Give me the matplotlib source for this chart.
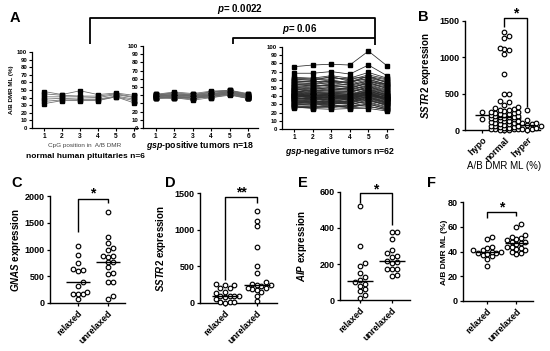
import numpy as np
import matplotlib
matplotlib.use('Agg')
import matplotlib.pyplot as plt
from matplotlib.lines import Line2D

plt.rcParams['font.family'] = ['Liberation Sans', 'DejaVu Sans']
plt.rcParams['font.weight'] = 'bold'
plt.rcParams['mathtext.fontset'] = 'custom'
plt.rcParams['mathtext.it'] = 'Liberation Sans:italic:bold'
plt.rcParams['mathtext.rm'] = 'Liberation Sans:bold'
plt.rcParams['mathtext.bf'] = 'Liberation Sans:bold'

# ---------------- data ----------------
cpg_pos = [1, 2, 3, 4, 5, 6]

a_normal = [
    [48, 44, 49, 44, 46, 43],
    [45, 43, 42, 42, 45, 41],
    [41, 41, 41, 40, 44, 40],
    [38, 39, 38, 38, 42, 38],
    [35, 37, 37, 37, 41, 36],
    [32, 36, 36, 36, 41, 33],
]

a_gsp_pos = [
    [41, 44, 42, 45, 46, 42], [40, 43, 41, 44, 45, 41], [40, 42, 40, 43, 46, 40],
    [39, 41, 39, 42, 44, 40], [41, 40, 38, 41, 45, 39], [39, 39, 40, 40, 43, 39],
    [38, 40, 37, 41, 44, 38], [40, 38, 41, 39, 42, 37], [37, 39, 36, 40, 43, 38],
    [38, 37, 38, 38, 42, 37], [36, 38, 35, 39, 41, 36], [39, 36, 37, 38, 44, 37],
    [37, 37, 34, 37, 40, 36], [38, 41, 39, 42, 45, 39], [40, 39, 36, 41, 43, 38],
    [36, 36, 38, 37, 41, 36], [41, 42, 40, 44, 46, 41], [37, 38, 37, 39, 42, 37],
]

a_gsp_neg = [
    [76, 78, 79, 78, 95, 77], [68, 68, 70, 67, 78, 65], [63, 62, 65, 62, 69, 62],
    [62, 61, 63, 60, 66, 61], [61, 59, 64, 58, 64, 60], [60, 60, 61, 62, 63, 58],
    [59, 57, 60, 56, 65, 56], [58, 58, 58, 57, 62, 57], [57, 55, 59, 55, 60, 55],
    [56, 56, 56, 58, 61, 54], [55, 54, 57, 53, 59, 53], [55, 52, 55, 54, 58, 52],
    [54, 53, 53, 52, 57, 55], [53, 51, 54, 50, 56, 51], [52, 50, 52, 51, 55, 50],
    [51, 49, 50, 49, 57, 49], [51, 48, 51, 48, 54, 48], [50, 47, 49, 47, 53, 47],
    [49, 46, 48, 49, 52, 46], [49, 45, 47, 46, 51, 45], [48, 47, 46, 45, 50, 44],
    [47, 44, 45, 44, 52, 44], [47, 43, 44, 46, 49, 43], [46, 45, 43, 43, 48, 42],
    [46, 42, 44, 42, 47, 42], [45, 41, 42, 41, 49, 41], [45, 43, 41, 40, 46, 40],
    [44, 40, 43, 42, 45, 40], [44, 42, 40, 39, 47, 39], [43, 41, 42, 41, 44, 38],
    [43, 39, 39, 40, 46, 41], [42, 40, 41, 38, 43, 38], [42, 38, 40, 42, 45, 37],
    [42, 41, 38, 39, 44, 40], [41, 40, 42, 40, 42, 39], [41, 37, 39, 37, 43, 37],
    [40, 39, 38, 41, 44, 36], [40, 41, 37, 38, 41, 38], [40, 38, 40, 36, 42, 36],
    [39, 36, 39, 40, 43, 35], [39, 40, 36, 37, 40, 37], [38, 37, 38, 35, 44, 34],
    [38, 35, 37, 39, 41, 36], [37, 38, 35, 36, 39, 33], [37, 36, 36, 38, 42, 35],
    [36, 34, 34, 34, 40, 33], [36, 37, 33, 37, 38, 32], [35, 33, 35, 33, 41, 34],
    [35, 35, 32, 35, 37, 31], [34, 32, 34, 32, 39, 32], [33, 34, 31, 34, 36, 30],
    [33, 31, 33, 31, 38, 31], [32, 33, 30, 33, 35, 29], [31, 30, 32, 30, 34, 30],
    [31, 32, 29, 29, 36, 28], [30, 29, 31, 31, 33, 27], [29, 31, 28, 28, 32, 26],
    [28, 28, 27, 27, 30, 25], [28, 27, 30, 26, 31, 24], [27, 26, 26, 29, 28, 23],
    [27, 25, 24, 25, 25, 22], [26, 26, 28, 26, 27, 24],
]

b_categories = ['hypo', 'normal', 'hyper']
b_hypo = [250, 150]
b_normal = [1350, 1290, 1260, 1130, 1120, 1100, 1050, 770, 500, 490, 400, 380,
            350, 320, 300, 290, 280, 270, 260, 250, 245, 240, 230, 220, 215,
            210, 200, 195, 190, 185, 180, 175, 170, 165, 160, 150, 145, 140,
            130, 120, 110, 100, 100, 90, 80, 80, 70, 60, 60, 50, 40, 40, 30,
            30, 20, 20, 10, 10, 5, 0, 0]
b_hyper = [270, 140, 130, 100, 90, 80, 70, 60, 50, 30, 20, 10, 0]

cd_categories = ['relaxed', 'unrelaxed']
c_relaxed = [1060, 900, 740, 640, 620, 600, 400, 320, 200, 170, 170, 170, 80]
c_unrelaxed = [1700, 1230, 1130, 1020, 1000, 880, 870, 860, 770, 760, 680, 560,
               540, 400, 400, 140, 80]
d_relaxed = [260, 250, 240, 210, 200, 150, 140, 100, 100, 90, 90, 80, 60, 20,
             10, 10, 5]
d_unrelaxed = [1260, 1120, 1050, 770, 500, 410, 280, 260, 250, 240, 230, 210,
               200, 190, 180, 150, 100, 30]
e_relaxed = [520, 300, 205, 190, 150, 130, 110, 100, 90, 80, 60, 50, 30, 10]
e_unrelaxed = [380, 380, 340, 280, 260, 245, 240, 215, 210, 205, 175, 170, 170,
               140, 135]
f_relaxed = [52, 50, 44, 43, 41, 41, 40, 40, 39, 39, 38, 37, 36, 34, 28]
f_unrelaxed = [62, 60, 53, 52, 51, 50, 49, 48, 48, 47, 46, 44, 44, 43, 42, 41,
               40, 39, 38]

# ---------------- layout helpers ----------------
W, H = 550, 351
fig = plt.figure(figsize=(W / 100, H / 100), dpi=100)


def rect(x0, x1, yt, yb):
    return [x0 / W, 1 - yb / H, (x1 - x0) / W, (yb - yt) / H]


def ftext(x, y, s, **kw):
    kw.setdefault('ha', 'center')
    kw.setdefault('va', 'center')
    fig.text(x / W, 1 - y / H, s, **kw)


def fline(xs, ys, lw=1.3):
    fig.add_artist(Line2D([x / W for x in xs], [1 - y / H for y in ys],
                          color='black', lw=lw, solid_capstyle='butt'))


def style(ax, lw=1.0, size=6.5, tl=2.5):
    for s in ['top', 'right']:
        ax.spines[s].set_visible(False)
    for s in ['left', 'bottom']:
        ax.spines[s].set_linewidth(lw)
    ax.tick_params(width=lw * 0.9, length=tl, labelsize=size, pad=1.5)
    ax.patch.set_alpha(0)


# ---------------- panel A ----------------
a_specs = [
    (a_normal, rect(32, 138, 52, 128), (0.333, 6.22), '#6a6a6a'),
    (a_gsp_pos, rect(143, 258, 46, 128), (0.31, 6.53), '#6a6a6a'),
    (a_gsp_neg, rect(282, 393, 47, 129), (0.355, 6.32), '#2a2a2a'),
]
for rows, r, xl, lc in a_specs:
    ax = fig.add_axes(r)
    for row in rows:
        ax.plot(cpg_pos, row, color=lc, lw=0.55, marker='s', ms=2.4,
                mfc='black', mec='black', clip_on=False, zorder=3)
    ax.set_xlim(*xl)
    ax.set_ylim(0, 100)
    ax.set_yticks(range(0, 101, 10))
    ax.set_xticks(cpg_pos)
    style(ax, lw=0.9, size=4.3, tl=2)
    ax.tick_params(axis='x', labelsize=4.8)

ftext(12, 90, 'A/B DMR ML (%)', rotation=90, fontsize=4.5)
ftext(85, 146, 'CpG position in  A/B DMR', fontsize=4.6, fontweight='normal',
      color='#444444')
ftext(85, 157, 'normal human pituitaries n=6', fontsize=6)
ftext(200, 146, r'$\mathit{gsp}$-positive tumors n=18', fontsize=6.3)
ftext(340, 152, r'$\mathit{gsp}$-negative tumors n=62', fontsize=6.3)

# brackets between groups
fline([90, 90, 375, 375], [44, 18, 18, 45])
fline([233, 233, 375], [44, 38, 38])
ftext(240, 9, r'$\mathit{p}$= 0.0022', fontsize=7)
ftext(300, 29, r'$\mathit{p}$= 0.06', fontsize=7)


# ---------------- scatter helpers ----------------
def swarm(ax, xc, values, d_px=4.6, max_k=3):
    fig.canvas.draw()
    bb = ax.get_window_extent()
    x0, x1 = ax.get_xlim()
    y0, y1 = ax.get_ylim()
    ppx = bb.width / (x1 - x0)
    ppy = bb.height / (y1 - y0)
    placed = []
    xs, ys = [], []
    for v in sorted(values):
        yp = v * ppy
        best, best_d = 0.0, -1
        chosen = None
        for k in range(max_k + 1):
            cands = [0.0] if k == 0 else [k * d_px, -k * d_px]
            for c in cands:
                dmin = min([np.hypot(c - px, yp - py) for px, py in placed] + [99])
                if dmin >= d_px:
                    chosen = c
                    break
                if dmin > best_d:
                    best, best_d = c, dmin
            if chosen is not None:
                break
        if chosen is None:
            chosen = best
        placed.append((chosen, yp))
        xs.append(xc + chosen / ppx)
        ys.append(v)
    ax.scatter(xs, ys, s=11, facecolors='white', edgecolors='black',
               linewidths=0.85, clip_on=False, zorder=3)


def median_line(ax, xc, values, half=0.35):
    m = np.median(values)
    ax.plot([xc - half, xc + half], [m, m], color='black', lw=1.0, zorder=4,
            solid_capstyle='butt')


def scatter_panel(r, xl, yl, yticks, groups, cats, half=0.35):
    ax = fig.add_axes(r)
    ax.set_xlim(*xl)
    ax.set_ylim(*yl)
    ax.set_yticks(yticks)
    ax.set_xticks(range(len(cats)))
    ax.set_xticklabels(cats, rotation=45, ha='right', rotation_mode='anchor')
    style(ax)
    for i, g in enumerate(groups):
        swarm(ax, i, g)
        median_line(ax, i, g, half)
    return ax


def bracket(ax, x0, x1, yl, yt, yr, star, ys, fs=10):
    ax.plot([x0, x0, x1, x1], [yl, yt, yt, yr], color='black', lw=1.0,
            clip_on=False, solid_capstyle='butt')
    ax.text((x0 + x1) / 2, ys, star, ha='center', va='center', fontsize=fs,
            fontweight='bold', clip_on=False)


# ---------------- panel B ----------------
axB = scatter_panel(rect(465, 540, 21, 130), (-0.756, 2.58), (0, 1500),
                    [0, 500, 1000, 1500], [b_hypo, b_normal, b_hyper],
                    b_categories, half=0.33)
bracket(axB, 1, 2, 1417, 1541, 316, '*', 1600)
ftext(426, 75, r'$\mathit{SSTR2}$ expression', rotation=90, fontsize=7)
ftext(504, 166, 'A/B DMR ML (%)', fontsize=7, fontweight='normal')

# ---------------- panel C ----------------
axC = scatter_panel(rect(50, 125, 196, 303), (-0.93, 1.57), (0, 2000),
                    [0, 500, 1000, 1500, 2000], [c_relaxed, c_unrelaxed],
                    cd_categories, half=0.4)
bracket(axC, 0, 1, 1327, 1944, 1869, '*', 2040)
ftext(16, 250, r'$\mathit{GNAS}$ expression', rotation=90, fontsize=7)

# ---------------- panel D ----------------
axD = scatter_panel(rect(200, 277, 193, 303), (-0.78, 1.63), (0, 1500),
                    [0, 500, 1000, 1500], [d_relaxed, d_unrelaxed],
                    cd_categories, half=0.4)
bracket(axD, 0, 1, 314, 1445, 1364, '**', 1510)
ftext(161, 248, r'$\mathit{SSTR2}$ expression', rotation=90, fontsize=7)

# ---------------- panel E ----------------
axE = scatter_panel(rect(340, 410, 192, 300), (-0.625, 1.56), (0, 600),
                    [0, 200, 400, 600], [e_relaxed, e_unrelaxed],
                    cd_categories, half=0.4)
bracket(axE, 0, 1, 539, 594, 417, '*', 615)
ftext(302, 246, r'$\mathit{AIP}$ expression', rotation=90, fontsize=7)

# ---------------- panel F ----------------
axF = scatter_panel(rect(463, 533, 202, 301), (-0.83, 1.58), (0, 80),
                    [0, 20, 40, 60, 80], [f_relaxed, f_unrelaxed],
                    cd_categories, half=0.4)
bracket(axF, 0, 1, 67, 71.9, 68.5, '*', 75.5)
ftext(445, 252, 'A/B DMR ML (%)', rotation=90, fontsize=6)

# ---------------- panel letters ----------------
for lt, x, y in [('A', 15, 18), ('B', 423, 17), ('C', 17, 183),
                 ('D', 170, 183), ('E', 303, 183), ('F', 432, 183)]:
    ftext(x, y, lt, fontsize=10.5)

fig.savefig('out.png', dpi=100)
